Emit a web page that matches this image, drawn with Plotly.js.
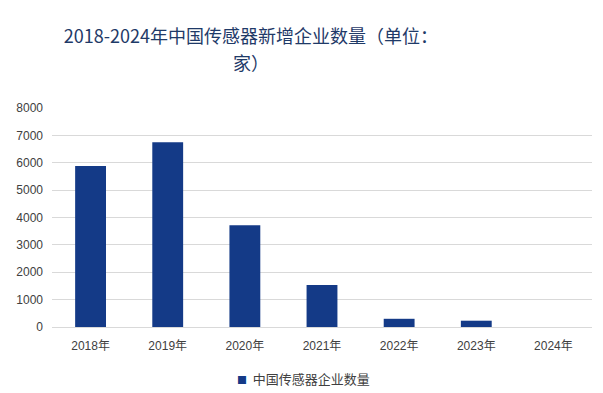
<!DOCTYPE html>
<html>
<head>
<meta charset="utf-8">
<script src="https://cdn.plot.ly/plotly-3.0.1.min.js"></script>
<style>html,body{margin:0;padding:0;background:#fff;}#chart{width:603px;height:393px;}</style>
</head>
<body>
<div id="chart"></div>
<script>
var years = ["2018年", "2019年", "2020年", "2021年", "2022年", "2023年", "2024年"];
var counts = [5880, 6750, 3720, 1530, 300, 230, null];
var seriesName = "中国传感器企业数量";
var titleLine1 = "2018-2024年中国传感器新增企业数量（单位：";
var titleLine2 = "家）";

var barColor = "#143a87";
var fontFam = "Liberation Sans, Arial, Noto Sans CJK SC, sans-serif";
var cjkFam = "Noto Sans CJK SC, sans-serif";

var traces = [
  {
    type: "bar",
    x: years,
    y: counts,
    name: seriesName,
    marker: {color: barColor},
    showlegend: false,
    hoverinfo: "x+y"
  }
];

var layout = {
  width: 603,
  height: 393,
  margin: {l: 52, r: 11, t: 108, b: 66, autoexpand: false},
  paper_bgcolor: "#ffffff",
  plot_bgcolor: "#ffffff",
  bargap: 0.6,
  showlegend: false,
  title: {
    text: titleLine1,
    font: {family: cjkFam, size: 18, color: "#1f3a68"},
    xref: "container", x: 0.416, xanchor: "center",
    yref: "container", y: 1 - 37 / 393, yanchor: "middle"
  },
  xaxis: {
    type: "category",
    tickfont: {family: fontFam, size: 12, color: "#404040"},
    showgrid: false,
    showline: false,
    ticks: "",
    ticklabelstandoff: 10,
    fixedrange: true
  },
  yaxis: {
    range: [0, 8000],
    dtick: 1000,
    tickfont: {family: fontFam, size: 12, color: "#404040"},
    gridcolor: "#d9d9d9",
    gridwidth: 1,
    zeroline: true,
    zerolinecolor: "#d9d9d9",
    zerolinewidth: 1,
    showline: false,
    ticks: "",
    ticklabelstandoff: 8,
    fixedrange: true
  },
  annotations: [
    {
      text: titleLine2,
      xref: "paper", yref: "paper",
      x: (251 - 52) / 540, y: (327 - 62) / 219,
      xanchor: "center", yanchor: "middle",
      showarrow: false,
      font: {family: cjkFam, size: 18, color: "#1f3a68"}
    },
    {
      text: "<span style='color:" + barColor + ";font-size:10px'>■</span>  " + seriesName,
      xref: "paper", yref: "paper",
      x: (235 - 52) / 540, y: -(378 - 327) / 219,
      xanchor: "left", yanchor: "middle",
      showarrow: false,
      font: {family: cjkFam, size: 13, color: "#404040"}
    }
  ]
};

Plotly.newPlot("chart", traces, layout, {displayModeBar: false, staticPlot: true});
</script>
</body>
</html>
